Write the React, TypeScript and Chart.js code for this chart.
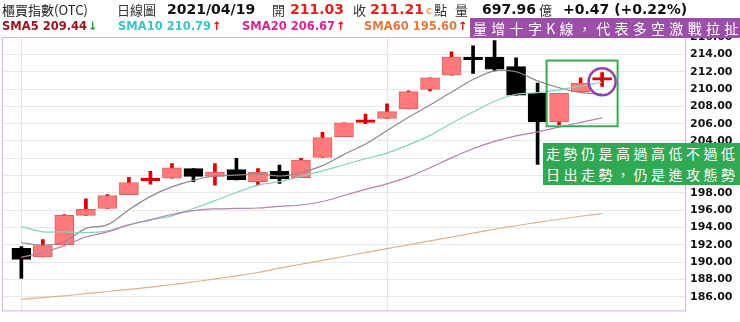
import React, { useEffect, useRef } from 'react';
import { Chart, registerables } from 'chart.js';

Chart.register(...registerables);

// ---- data ----
const dayIndex = [0, 1, 2, 3, 4, 5, 6, 7, 8, 9, 10, 11, 12, 13, 14, 15, 16, 17, 18, 19, 20, 21, 22, 23, 24, 25, 26, 27];
const opens = [191.6, 190.6, 192.0, 195.4, 196.2, 197.8, 199.4, 199.7, 200.8, 199.9, 200.7, 199.3, 200.5, 199.75, 202.1, 204.5, 206.15, 206.6, 207.7, 209.95, 211.6, 213.7, 213.7, 212.6, 209.5, 206.2, 209.7, 211.03];
const highs = [191.8, 192.6, 195.5, 197.3, 197.8, 199.8, 200.5, 201.4, 200.8, 201.4, 202.0, 200.8, 201.2, 202.0, 205.0, 206.1, 207.1, 208.3, 209.8, 211.3, 214.3, 215.0, 215.6, 213.6, 210.7, 209.5, 211.3, 211.9];
const lows = [188.1, 190.6, 192.0, 195.4, 196.2, 197.8, 199.0, 199.7, 199.3, 198.9, 199.5, 198.9, 199.1, 199.75, 202.1, 204.5, 206.0, 206.6, 207.7, 209.8, 211.6, 211.8, 212.1, 209.3, 201.3, 205.9, 209.7, 210.3];
const closes = [190.3, 191.9, 195.4, 196.1, 197.7, 199.2, 199.5, 200.9, 199.9, 200.4, 199.5, 200.4, 199.6, 201.8, 204.4, 206.1, 206.25, 207.4, 209.7, 211.3, 213.7, 213.4, 212.3, 209.3, 206.2, 209.5, 210.7, 211.21];

const sma5 = [192.25, 191.95, 192.35, 193.9, 194.3, 196.05, 197.6, 198.7, 199.45, 199.95, 200.05, 200.2, 199.95, 200.35, 201.15, 202.45, 203.65, 205.2, 206.75, 208.15, 209.65, 211.1, 212.1, 212.0, 210.95, 210.15, 209.6, 209.44];
const sma10 = [194.1, 193.5, 193.5, 193.4, 193.6, 194.3, 194.85, 195.35, 196.2, 197.1, 198.05, 198.9, 199.3, 199.9, 200.55, 201.25, 201.95, 202.6, 203.55, 204.65, 206.05, 207.35, 208.6, 209.4, 209.6, 209.9, 210.35, 210.79];
const sma20 = [190.55, 191.1, 191.9, 192.9, 193.5, 194.3, 194.9, 195.5, 195.95, 196.15, 196.2, 196.25, 196.45, 196.6, 197.0, 197.7, 198.4, 199.05, 199.85, 200.9, 202.05, 203.1, 203.95, 204.6, 205.05, 205.6, 206.15, 206.67];
const sma60 = [185.7, 185.9, 186.1, 186.35, 186.6, 186.85, 187.1, 187.4, 187.7, 188.05, 188.4, 188.8, 189.3, 189.75, 190.2, 190.65, 191.1, 191.55, 192.0, 192.45, 192.9, 193.35, 193.8, 194.2, 194.6, 194.95, 195.3, 195.6];

const yTicks = [186, 188, 190, 192, 194, 196, 198, 200, 202, 204, 206, 208, 210, 212, 214, 216];
const yMin = 184.3;
const yMax = 216.02;
const xMin = -0.9;
const xMax = 30.9;
const gridDays = [0, 17];

// annotation anchors (data units)
const boxX = [24.42, 27.72];
const boxY = [213.3, 205.7];
const circleAt = [27, 210.85];

const UP_BODY = '#ff7a7a';
const UP_EDGE = '#e25c5c';
const UP_WICK = '#dd0000';
const DOWN = '#000000';

const isUp = (i: number) => closes[i] >= opens[i];
const isCross = (i: number) => Math.abs(closes[i] - opens[i]) < 0.25;

const overlayPlugin = {
  id: 'overlayMarks',
  afterDraw(chart: any) {
    const { ctx, chartArea: a, scales } = chart;
    const x = scales.x;
    const y = scales.y;
    ctx.save();
    ctx.strokeStyle = '#d2b6de';
    ctx.lineWidth = 1;
    ctx.strokeRect(a.left + 0.5, a.top + 0.5, a.right - a.left - 1, a.bottom - a.top - 1);

    const x0 = x.getPixelForValue(boxX[0]);
    const x1 = x.getPixelForValue(boxX[1]);
    const y0 = y.getPixelForValue(boxY[0]);
    const y1 = y.getPixelForValue(boxY[1]);
    ctx.strokeStyle = '#3aac55';
    ctx.lineWidth = 2;
    ctx.strokeRect(x0, y0, x1 - x0, y1 - y0);

    ctx.strokeStyle = '#8e44ad';
    ctx.lineWidth = 2.5;
    ctx.beginPath();
    ctx.arc(x.getPixelForValue(circleAt[0]), y.getPixelForValue(circleAt[1]), 13.5, 0, Math.PI * 2);
    ctx.stroke();
    ctx.restore();
  },
};

const num = "'DejaVu Sans', Verdana, sans-serif";
const cjk = "'Noto Sans CJK TC', 'Noto Sans CJK SC', sans-serif";

function Txt(props: { left: number; top: number; children: any; style?: any }) {
  return (
    <span
      style={{
        position: 'absolute',
        left: props.left,
        top: props.top,
        whiteSpace: 'nowrap',
        lineHeight: '17px',
        height: 17,
        ...props.style,
      }}
    >
      {props.children}
    </span>
  );
}

export default function App() {
  const ref = useRef<HTMLCanvasElement | null>(null);

  useEffect(() => {
    document.body.style.margin = '0';
    const canvas = ref.current;
    if (!canvas) return;

    const lineDs = (label: string, data: number[], color: string) => ({
      type: 'line' as const,
      label,
      data: data.map((v, i) => ({ x: dayIndex[i], y: v })),
      borderColor: color,
      borderWidth: 1.2,
      pointRadius: 0,
      tension: 0.3,
      fill: false,
      order: 0,
    });

    const chart = new Chart(canvas, {
      type: 'bar',
      data: {
        datasets: [
          lineDs('SMA60', sma60, '#dcb28e'),
          lineDs('SMA20', sma20, '#b682aa'),
          lineDs('SMA10', sma10, '#82d2c2'),
          lineDs('SMA5', sma5, '#948686'),
          {
            type: 'bar',
            label: 'body',
            data: dayIndex.map((d, i) => ({ x: d, y: [opens[i], closes[i]] })),
            backgroundColor: dayIndex.map((_, i) => (isCross(i) ? (isUp(i) ? UP_WICK : DOWN) : isUp(i) ? UP_BODY : DOWN)),
            borderColor: dayIndex.map((_, i) => (isCross(i) ? (isUp(i) ? UP_WICK : DOWN) : isUp(i) ? UP_EDGE : DOWN)),
            borderWidth: 1,
            borderSkipped: false,
            barThickness: 19,
            minBarLength: 2.5,
            grouped: false,
            order: 1,
          } as any,
          {
            type: 'bar',
            label: 'wick',
            data: dayIndex.map((d, i) => ({ x: d, y: [lows[i], highs[i]] })),
            backgroundColor: dayIndex.map((_, i) => (isUp(i) ? UP_WICK : DOWN)),
            borderWidth: 0,
            barThickness: 3,
            grouped: false,
            order: 2,
          } as any,
        ],
      },
      options: {
        responsive: false,
        animation: false,
        events: [],
        layout: { padding: { left: 2, top: 37, right: 0, bottom: 3 } },
        plugins: { legend: { display: false }, tooltip: { enabled: false } },
        scales: {
          x: {
            type: 'linear',
            min: xMin,
            max: xMax,
            offset: false,
            grid: { offset: false, color: '#e4e4e4', drawTicks: false },
            border: { display: false },
            ticks: { display: false },
            afterBuildTicks: (ax: any) => {
              ax.ticks = gridDays.map((v) => ({ value: v }));
            },
            afterFit: (ax: any) => {
              ax.height = 0;
            },
          },
          y: {
            type: 'linear',
            position: 'right',
            min: yMin,
            max: yMax,
            grid: { color: '#e8e8e8', drawTicks: false },
            border: { display: false },
            ticks: {
              padding: 4,
              autoSkip: false,
              color: '#111',
              font: { family: 'DejaVu Sans', size: 11, weight: 'bold' },
              callback: (v: any) => Number(v).toFixed(2),
            },
            afterBuildTicks: (ax: any) => {
              ax.ticks = yTicks.map((v) => ({ value: v }));
            },
            afterFit: (ax: any) => {
              ax.width = 54;
            },
          },
        },
      } as any,
      plugins: [overlayPlugin],
    });
    return () => chart.destroy();
  }, []);

  const red = '#e41f1f';
  const b14 = { fontFamily: num, fontWeight: 'bold', fontSize: 14, color: '#111' };
  const c13 = { fontFamily: cjk, fontSize: 13, color: '#333' };
  const s2 = { fontFamily: num, fontWeight: 'bold', fontSize: 11.5, top: 18 };

  return (
    <div style={{ position: 'relative', width: 740, height: 322, overflow: 'hidden', background: '#fff' }}>
      <canvas ref={ref} width={740} height={322} style={{ position: 'absolute', left: 0, top: 0, width: 740, height: 322 }} />
      <div style={{ position: 'absolute', left: 0, top: 0, width: 740, height: 322, pointerEvents: 'none' }}>
        <Txt left={2} top={1} style={{ ...c13, color: '#222' }}>櫃買指數(OTC)</Txt>
        <Txt left={117} top={1} style={c13}>日線圖</Txt>
        <Txt left={167} top={1} style={b14}>2021/04/19</Txt>
        <Txt left={272} top={1} style={c13}>開</Txt>
        <Txt left={290} top={1} style={{ ...b14, color: red }}>211.03</Txt>
        <Txt left={353} top={1} style={c13}>收</Txt>
        <Txt left={370} top={1} style={{ ...b14, color: red }}>211.21</Txt>
        <Txt left={426} top={2} style={{ fontFamily: num, fontWeight: 'bold', fontSize: 10, color: '#e6a45c' }}>c</Txt>
        <Txt left={434} top={1} style={c13}>點</Txt>
        <Txt left={455} top={1} style={c13}>量</Txt>
        <Txt left={482} top={1} style={b14}>697.96</Txt>
        <Txt left={539} top={1} style={c13}>億</Txt>
        <Txt left={563} top={1} style={b14}>+0.47 (+0.22%)</Txt>

        <Txt left={2} top={18} style={{ ...s2, color: '#9c1420' }}>
          SMA5 209.44<span style={{ color: '#2a9a3a', marginLeft: 1 }}>↓</span>
        </Txt>
        <Txt left={118} top={18} style={{ ...s2, color: '#3cc4c4' }}>
          SMA10 210.79<span style={{ color: '#e01010', marginLeft: 1 }}>↑</span>
        </Txt>
        <Txt left={242} top={18} style={{ ...s2, color: '#d0288e' }}>
          SMA20 206.67<span style={{ color: '#e01010', marginLeft: 1 }}>↑</span>
        </Txt>
        <Txt left={364} top={18} style={{ ...s2, color: '#e8783a' }}>
          SMA60 195.60<span style={{ color: '#e01010', marginLeft: 1 }}>↑</span>
        </Txt>

        <div
          style={{
            position: 'absolute',
            left: 470,
            top: 18,
            width: 270,
            height: 20,
            background: '#9b4fa8',
            color: '#fff',
            fontFamily: cjk,
            fontSize: 14,
            lineHeight: '20px',
            letterSpacing: '4.3px',
            whiteSpace: 'nowrap',
            paddingLeft: 3,
            boxSizing: 'border-box',
          }}
        >
          量增十字K線，代表多空激戰拉扯
        </div>

        <div
          style={{
            position: 'absolute',
            left: 543,
            top: 143,
            width: 197,
            height: 42,
            background: '#31a852',
            color: '#fff',
            fontFamily: cjk,
            fontSize: 14,
            lineHeight: '21px',
            letterSpacing: '3.5px',
            whiteSpace: 'nowrap',
            paddingLeft: 3,
            boxSizing: 'border-box',
          }}
        >
          <div>走勢仍是高過高低不過低</div>
          <div>日出走勢，仍是進攻態勢</div>
        </div>
      </div>
    </div>
  );
}
